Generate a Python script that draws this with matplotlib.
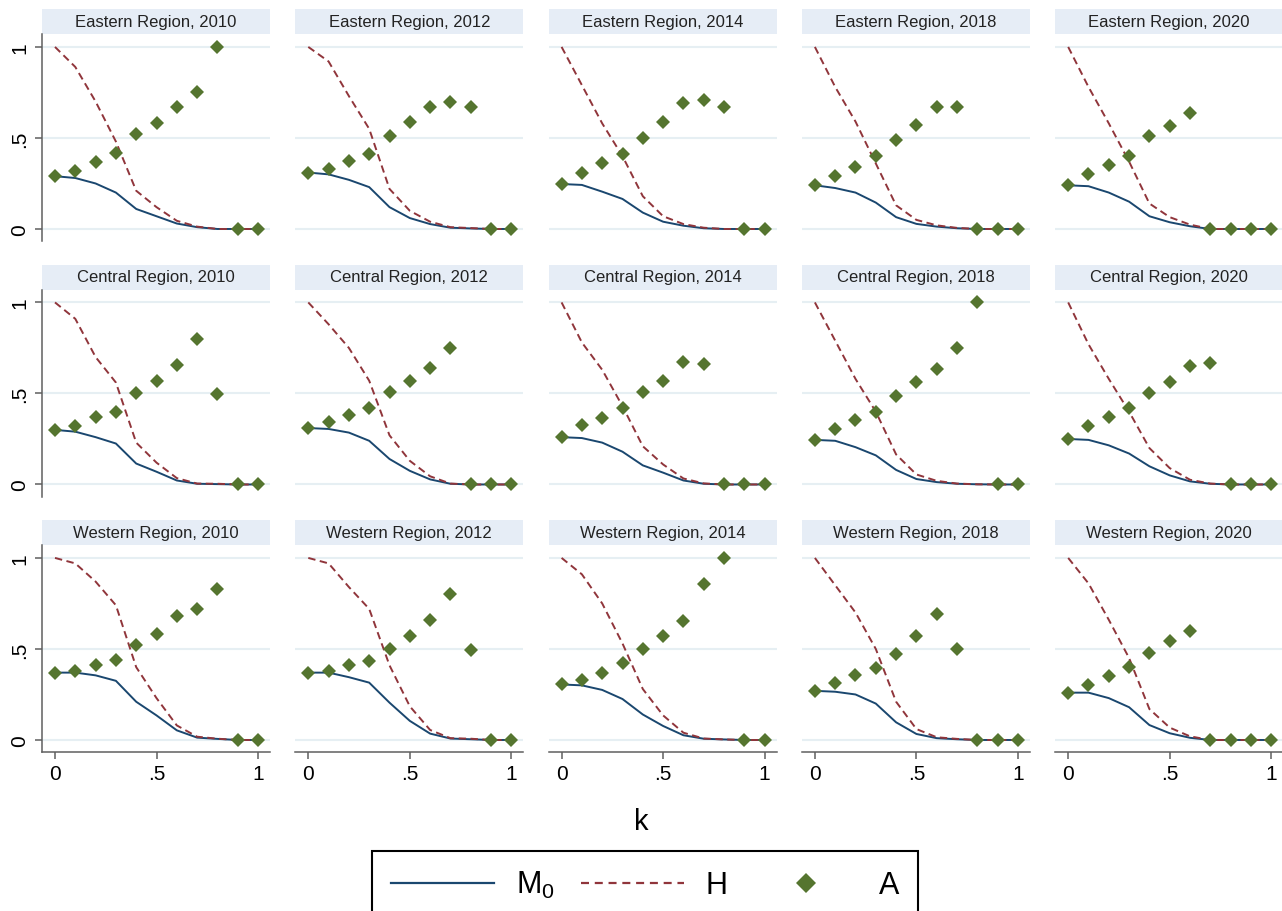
import matplotlib

matplotlib.use("Agg")
import matplotlib.pyplot as plt
from matplotlib.lines import Line2D
from matplotlib.patches import Rectangle

plt.rcParams["font.family"] = ["Liberation Sans", "DejaVu Sans"]
plt.rcParams["mathtext.fontset"] = "custom"
plt.rcParams["mathtext.rm"] = "Liberation Sans"
plt.rcParams["mathtext.it"] = "Liberation Sans:italic"

# poverty cut-off k
k = [0, 0.1, 0.2, 0.3, 0.4, 0.5, 0.6, 0.7, 0.8, 0.9, 1.0]
regions = ["Eastern Region", "Central Region", "Western Region"]
years = [2010, 2012, 2014, 2018, 2020]

# one list per year, values read at each k
east_m0 = [
    [0.29, 0.28, 0.25, 0.20, 0.11, 0.07, 0.03, 0.01, 0, 0, 0],
    [0.31, 0.30, 0.27, 0.23, 0.12, 0.06, 0.027, 0.007, 0.003, 0, 0],
    [0.247, 0.242, 0.205, 0.165, 0.09, 0.04, 0.018, 0.004, 0, 0, 0],
    [0.24, 0.225, 0.20, 0.145, 0.065, 0.028, 0.013, 0.004, 0, 0, 0],
    [0.24, 0.235, 0.20, 0.15, 0.07, 0.037, 0.015, 0, 0, 0, 0],
]
east_h = [
    [1, 0.89, 0.70, 0.48, 0.21, 0.12, 0.045, 0.013, 0, 0, 0],
    [1, 0.92, 0.73, 0.55, 0.22, 0.10, 0.04, 0.01, 0.005, 0, 0],
    [1, 0.79, 0.58, 0.40, 0.18, 0.07, 0.027, 0.007, 0, 0, 0],
    [1, 0.78, 0.59, 0.36, 0.13, 0.05, 0.02, 0.006, 0, 0, 0],
    [1, 0.78, 0.58, 0.37, 0.14, 0.065, 0.024, 0, 0, 0, 0],
]
east_a = [
    [0.29, 0.32, 0.37, 0.42, 0.52, 0.58, 0.67, 0.75, 1.0, 0, 0],
    [0.31, 0.33, 0.375, 0.41, 0.51, 0.59, 0.67, 0.70, 0.67, 0, 0],
    [0.247, 0.31, 0.36, 0.41, 0.50, 0.59, 0.69, 0.71, 0.67, 0, 0],
    [0.24, 0.29, 0.34, 0.40, 0.49, 0.57, 0.67, 0.67, 0, 0, 0],
    [0.24, 0.30, 0.35, 0.40, 0.51, 0.565, 0.635, 0, 0, 0, 0],
]

central_m0 = [
    [0.30, 0.29, 0.26, 0.225, 0.115, 0.07, 0.022, 0.004, 0.002, 0, 0],
    [0.31, 0.305, 0.285, 0.24, 0.14, 0.075, 0.028, 0.004, 0, 0, 0],
    [0.26, 0.255, 0.23, 0.18, 0.105, 0.065, 0.022, 0.004, 0, 0, 0],
    [0.245, 0.24, 0.205, 0.16, 0.08, 0.03, 0.013, 0.004, 0.001, 0, 0],
    [0.25, 0.245, 0.215, 0.17, 0.10, 0.05, 0.017, 0.004, 0, 0, 0],
]
central_h = [
    [1, 0.91, 0.70, 0.56, 0.23, 0.12, 0.035, 0.005, 0.004, 0, 0],
    [1, 0.88, 0.75, 0.57, 0.27, 0.13, 0.045, 0.005, 0, 0, 0],
    [1, 0.78, 0.63, 0.43, 0.21, 0.11, 0.033, 0.006, 0, 0, 0],
    [1, 0.79, 0.58, 0.40, 0.165, 0.055, 0.02, 0.005, 0.001, 0, 0],
    [1, 0.77, 0.58, 0.40, 0.20, 0.09, 0.026, 0.005, 0, 0, 0],
]
central_a = [
    [0.30, 0.32, 0.37, 0.40, 0.50, 0.57, 0.655, 0.80, 0.495, 0, 0],
    [0.31, 0.345, 0.38, 0.42, 0.51, 0.57, 0.64, 0.75, 0, 0, 0],
    [0.26, 0.325, 0.365, 0.42, 0.51, 0.57, 0.675, 0.66, 0, 0, 0],
    [0.245, 0.305, 0.355, 0.40, 0.485, 0.565, 0.635, 0.75, 1.0, 0, 0],
    [0.25, 0.32, 0.37, 0.42, 0.50, 0.565, 0.65, 0.665, 0, 0, 0],
]

west_m0 = [
    [0.37, 0.37, 0.355, 0.325, 0.21, 0.135, 0.053, 0.013, 0.006, 0, 0],
    [0.37, 0.37, 0.345, 0.315, 0.205, 0.105, 0.035, 0.008, 0.004, 0, 0],
    [0.305, 0.30, 0.275, 0.225, 0.14, 0.077, 0.026, 0.007, 0.003, 0, 0],
    [0.27, 0.265, 0.25, 0.20, 0.097, 0.033, 0.01, 0.004, 0, 0, 0],
    [0.26, 0.26, 0.23, 0.18, 0.082, 0.037, 0.012, 0, 0, 0, 0],
]
west_h = [
    [1, 0.97, 0.87, 0.74, 0.40, 0.23, 0.08, 0.018, 0.007, 0, 0],
    [1, 0.97, 0.84, 0.72, 0.41, 0.185, 0.055, 0.01, 0.007, 0, 0],
    [1, 0.91, 0.75, 0.53, 0.28, 0.135, 0.04, 0.008, 0.003, 0, 0],
    [1, 0.85, 0.70, 0.50, 0.21, 0.06, 0.015, 0.006, 0, 0, 0],
    [1, 0.86, 0.66, 0.45, 0.17, 0.068, 0.02, 0, 0, 0, 0],
]
west_a = [
    [0.37, 0.38, 0.41, 0.44, 0.52, 0.58, 0.68, 0.72, 0.83, 0, 0],
    [0.37, 0.38, 0.41, 0.435, 0.50, 0.57, 0.66, 0.80, 0.495, 0, 0],
    [0.305, 0.33, 0.37, 0.425, 0.50, 0.57, 0.655, 0.855, 1.0, 0, 0],
    [0.27, 0.315, 0.355, 0.395, 0.47, 0.57, 0.69, 0.50, 0, 0, 0],
    [0.26, 0.30, 0.35, 0.40, 0.48, 0.545, 0.60, 0, 0, 0, 0],
]

M0_COLOR = "#1a476f"
H_COLOR = "#90353b"
A_COLOR = "#55752f"
GRID_COLOR = "#e6eff3"
STRIP_COLOR = "#e6edf6"
AXIS_COLOR = "#5f5f5f"

series = [
    (east_m0, east_h, east_a),
    (central_m0, central_h, central_a),
    (west_m0, west_h, west_a),
]

W, H = 1282, 912
fig = plt.figure(figsize=(W / 100, H / 100), dpi=100)

ax_w, ax_h = 228, 207
strip_h = 25

for r, region in enumerate(regions):
    m0_rows, h_rows, a_rows = series[r]
    for c, year in enumerate(years):
        left = 42 + c * 253.3
        top = 35 + r * 255.5
        ax = fig.add_axes([left / W, 1 - (top + ax_h) / H, ax_w / W, ax_h / H])

        ax.plot(k, m0_rows[c], color=M0_COLOR, lw=1.4, zorder=3)
        ax.plot(k, h_rows[c], color=H_COLOR, lw=1.4, ls="--", dashes=(3.8, 2.3), zorder=3)
        ax.plot(k, a_rows[c], ls="none", marker="D", ms=7, color=A_COLOR,
                markeredgewidth=0, zorder=4)

        ax.set_xlim(-0.064, 1.059)
        ax.set_ylim(-0.066, 1.071)
        ax.set_xticks([0, 0.5, 1])
        ax.set_xticklabels(["0", ".5", "1"])
        ax.set_yticks([0, 0.5, 1])
        ax.set_yticklabels(["0", ".5", "1"], rotation=90, va="center")
        ax.grid(axis="y", color=GRID_COLOR, lw=1.5)
        ax.grid(axis="x", visible=False)
        ax.set_axisbelow(True)

        for side in ["top", "right", "left", "bottom"]:
            ax.spines[side].set_visible(False)
        ax.tick_params(colors=AXIS_COLOR, labelcolor="black", labelsize=15,
                       length=5, width=1.1, pad=4)
        if c == 0:
            ax.spines["left"].set_visible(True)
            ax.spines["left"].set_color(AXIS_COLOR)
            ax.spines["left"].set_linewidth(1.1)
        else:
            ax.tick_params(left=False, labelleft=False)
        if r == 2:
            ax.spines["bottom"].set_visible(True)
            ax.spines["bottom"].set_color(AXIS_COLOR)
            ax.spines["bottom"].set_linewidth(1.1)
        else:
            ax.tick_params(bottom=False, labelbottom=False)

        # facet strip
        sh = strip_h / ax_h
        ax.add_patch(Rectangle((0, 1), 1, sh, transform=ax.transAxes,
                               facecolor=STRIP_COLOR, edgecolor="none", clip_on=False))
        ax.text(0.5, 1 + sh / 2, f"{region}, {year}", transform=ax.transAxes,
                ha="center", va="center", fontsize=12, color="#222222")

fig.text(641 / W, 1 - 822 / H, "k", ha="center", va="center", fontsize=21)

handles = [
    Line2D([], [], color=M0_COLOR, lw=1.6),
    Line2D([], [], color=H_COLOR, lw=1.6, ls="--", dashes=(3.6, 2.6)),
    Line2D([], [], color=A_COLOR, ls="none", marker="D", ms=10, markeredgewidth=0),
]
leg = fig.legend(handles, [r"M$_0$", "H", "A"], loc="upper center",
                 bbox_to_anchor=(645 / W, 1 - 852 / H), ncol=3, fontsize=22,
                 frameon=True, fancybox=False, edgecolor="black",
                 handlelength=3.4, handletextpad=0.7, columnspacing=0.85,
                 borderpad=0.6, borderaxespad=0, framealpha=1)
leg.get_frame().set_linewidth(1.5)

fig.savefig("out.png", dpi=100)
